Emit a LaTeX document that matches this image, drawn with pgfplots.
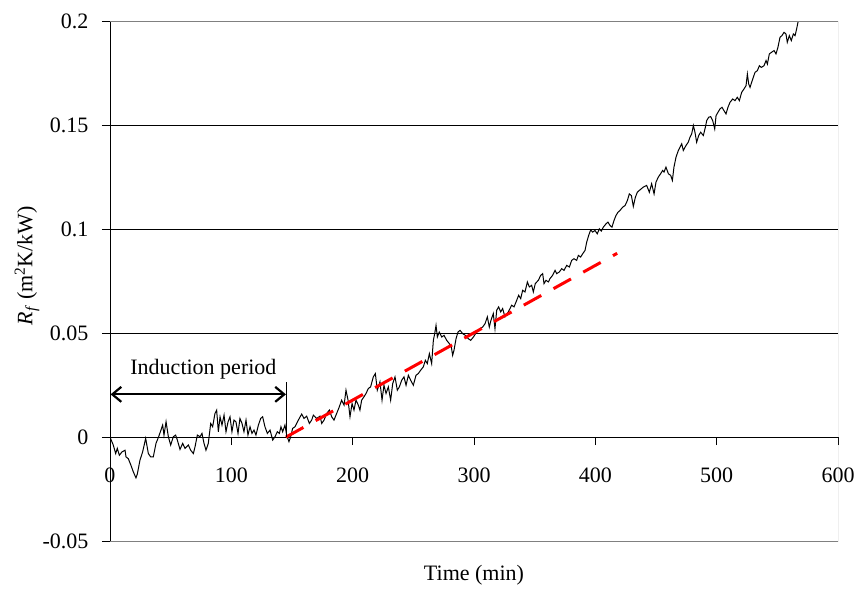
\documentclass[border=0pt]{standalone}
\usepackage{fontspec}
\setmainfont{Liberation Serif}
\usepackage{pgfplots}
\pgfplotsset{compat=1.18}
\usetikzlibrary{arrows.meta}
\begin{document}
\fontsize{22}{26}\selectfont
\begin{tikzpicture}
\useasboundingbox (0,0) rectangle (859pt,592pt);
\begin{axis}[
  at={(110pt,51pt)}, anchor=south west,
  scale only axis, width=728pt, height=519.3pt,
  xmin=0, xmax=600, ymin=-0.05, ymax=0.2,
  axis x line=middle, axis y line=left,
  axis line style={-, black, line width=1pt},
  x axis line style={-}, y axis line style={-},
  xtick={0,100,...,600}, xticklabels={0,100,200,300,400,500,600},
  ytick={-0.05,0,0.05,0.1,0.15,0.2}, yticklabels={-0.05,0,0.05,0.1,0.15,0.2},
  hide obscured x ticks=false, hide obscured y ticks=false,
  tick align=outside, major tick length=8pt,
  tick style={black, line width=1pt},
  ymajorgrids, grid style={black, line width=1pt},
  every tick label/.append style={font=\fontsize{22}{26}\selectfont},
  xticklabel style={yshift=-15pt},
  yticklabel style={xshift=-6pt},
  every axis x label/.style={at={(axis description cs:0.5,-0.0655)}, anchor=center, font=\fontsize{22}{26}\selectfont},
  every axis y label/.style={at={(axis description cs:-0.114,0.53)}, anchor=center, rotate=90, font=\fontsize{22}{26}\selectfont},
  xlabel={Time (min)},
  ylabel={\textit{R}\textsubscript{\textit{f}} (m\textsuperscript{2}K/kW)},
]
\addplot[black, line width=1pt] coordinates {
(0,0) (2.7,-0.0038) (4.7,-0.0079) (6.0,-0.0054) (7.7,-0.0087) (9.9,-0.0071) (12.4,-0.0063) (13.2,-0.0095)
(15.1,-0.0104) (17.3,-0.0136) (19.2,-0.0167) (21.4,-0.0196) (22.5,-0.0178) (24.7,-0.0111) (26.9,-0.0071)
(29.4,-0.0006) (31.6,-0.0079) (33.5,-0.0095) (35.7,-0.0095) (37.9,-0.0030) (40.1,0.0002) (42.0,0.0034)
(43.4,0.0058) (44.5,0.0010) (46.2,0.0074) (48.1,0.0002) (50.0,-0.0038) (52.2,0.0002) (54.1,0.0010)
(55.5,-0.0014) (57.7,-0.0059) (59.9,-0.0030) (61.8,-0.0054) (64.6,-0.0038) (66.5,-0.0063) (68.7,-0.0079)
(70.1,-0.0046) (72.0,0.0010) (74.2,0.0002) (75.8,0.0018) (77.5,-0.0030) (79.1,-0.0063) (81.0,-0.0030)
(83.0,0.0066) (84.6,0.0050) (86.5,0.0114) (87.9,0.0130) (89.3,0.0026) (90.7,0.0098) (92.3,0.0058)
(94.0,0.0106) (95.6,0.0026) (97.3,0.0074) (98.9,0.0098) (100.5,0.0026) (102.2,0.0082) (103.8,0.0074)
(105.5,0.0018) (107.1,0.0090) (108.8,0.0066) (110.4,0.0026) (112.1,0.0082) (113.7,0.0010) (115.4,0.0050)
(117.0,0.0018) (118.7,0.0034) (120.3,0.0010) (122.3,0.0058) (124.2,0.0090) (125.8,0.0098) (127.7,0.0050)
(129.7,0.0018) (131.9,0.0034) (134.1,-0.0014) (136.0,0.0002) (137.9,0.0026) (139.6,0.0018) (140.9,0.0050)
(142.3,0.0026) (144.2,0.0058) (145.6,0.0010) (147.5,-0.0022) (148.9,0.0002) (150.5,0.0042)
(152.5,0.0050) (155.2,0.0082) (158.0,0.0111) (159.9,0.0090) (162.1,0.0101) (164.3,0.0066) (166.2,0.0082)
(167.6,0.0106) (170.3,0.0090) (173.1,0.0101) (174.5,0.0066) (176.4,0.0082) (178.6,0.0114) (180.8,0.0130)
(182.7,0.0098) (184.6,0.0082) (186.8,0.0114) (189.0,0.0146) (190.9,0.0178) (192.9,0.0154) (194.5,0.0226)
(196.2,0.0178) (197.8,0.0098) (199.5,0.0162) (201.1,0.0130) (202.7,0.0178) (204.7,0.0154) (206.0,0.0130)
(207.4,0.0178) (209.3,0.0194) (211.0,0.0210) (212.9,0.0234) (214.8,0.0242) (217.0,0.0290) (218.7,0.0306)
(220.3,0.0226) (222.5,0.0266) (224.2,0.0178) (225.8,0.0250) (227.5,0.0210) (229.4,0.0242) (231.3,0.0178)
(233.0,0.0258) (234.9,0.0290) (236.8,0.0226) (238.5,0.0242) (240.4,0.0274) (242.3,0.0290) (244.0,0.0250)
(245.9,0.0298) (247.8,0.0274) (250.0,0.0250) (252.2,0.0298) (254.1,0.0306) (256.0,0.0322) (258.2,0.0338)
(259.9,0.0370) (261.5,0.0354) (263.2,0.0402) (265.1,0.0354) (266.5,0.0466) (267.6,0.0498) (268.7,0.0538)
(269.8,0.0482) (271.4,0.0506) (273.4,0.0482) (275.3,0.0490) (277.5,0.0466) (279.7,0.0450) (281.3,0.0434)
(282.4,0.0394) (283.5,0.0418) (285.2,0.0474) (286.8,0.0506) (288.5,0.0514) (290.7,0.0498) (292.9,0.0490)
(295.3,0.0474) (297.3,0.0466) (299.5,0.0482) (302.2,0.0506) (304.9,0.0522)
(307.1,0.0530) (309.1,0.0546) (311.0,0.0579) (312.6,0.0530) (314.0,0.0563) (315.9,0.0595) (317.3,0.0522)
(318.7,0.0611) (320.3,0.0627) (322.0,0.0603) (323.6,0.0619) (325.5,0.0579) (327.5,0.0595) (329.7,0.0619)
(331.0,0.0635) (333.0,0.0627) (335.2,0.0659) (336.8,0.0683) (338.5,0.0667) (340.1,0.0707) (342.0,0.0699)
(344.0,0.0747) (345.6,0.0723) (347.5,0.0731) (348.9,0.0699) (350.5,0.0739) (353.0,0.0755) (355.0,0.0779)
(356.6,0.0787) (357.7,0.0739) (359.3,0.0755) (361.3,0.0747) (362.6,0.0763) (364.8,0.0779) (366.8,0.0803)
(368.1,0.0787) (370.3,0.0795) (372.3,0.0811) (374.2,0.0803) (376.4,0.0827) (378.6,0.0819) (380.5,0.0851)
(382.4,0.0859) (384.6,0.0851) (386.0,0.0875) (387.9,0.0867) (389.6,0.0883) (391.5,0.0899) (392.9,0.0939)
(394.5,0.0971) (396.2,0.0998) (397.8,0.0987) (399.7,0.0995) (401.6,0.0979) (403.3,0.1003) (404.9,0.0992)
(406.6,0.1011) (408.8,0.1027) (410.4,0.1035) (412.1,0.1019) (413.7,0.1011) (415.4,0.1043) (417.0,0.1067)
(418.7,0.1083) (420.3,0.1091) (422.5,0.1107) (424.5,0.1115) (426.4,0.1139) (428.0,0.1171) (429.7,0.1163)
(431.3,0.1111) (433.0,0.1155) (434.6,0.1179) (436.3,0.1188)
(439.6,0.1204) (442.3,0.1212) (444.5,0.1179) (446.4,0.1220) (448.4,0.1171) (450.0,0.1228) (451.9,0.1252)
(453.8,0.1268) (455.5,0.1284) (456.6,0.1276) (458.2,0.1300) (460.2,0.1268) (462.1,0.1260) (463.5,0.1236)
(464.8,0.1300) (466.5,0.1348) (468.4,0.1380) (469.8,0.1396) (471.2,0.1412) (472.5,0.1380) (474.7,0.1404)
(476.6,0.1420) (478.0,0.1444) (479.4,0.1460) (480.8,0.1500) (482.1,0.1468) (483.5,0.1420) (485.2,0.1452)
(486.8,0.1468) (489.0,0.1452) (490.7,0.1492) (491.8,0.1524) (493.4,0.1540) (495.1,0.1543) (496.7,0.1524)
(498.4,0.1484) (499.5,0.1548) (501.1,0.1564) (502.7,0.1580) (504.4,0.1588) (506.0,0.1572) (507.7,0.1556)
(509.3,0.1588) (511.0,0.1612) (513.2,0.1628) (515.1,0.1620) (517.0,0.1636) (518.7,0.1620) (520.6,0.1660)
(522.5,0.1676) (524.2,0.1692) (525.3,0.1748) (526.4,0.1700) (527.5,0.1684) (529.7,0.1724) (531.6,0.1756)
(533.5,0.1764) (535.2,0.1788) (536.8,0.1780) (539.0,0.1788) (540.7,0.1813) (541.8,0.1796) (543.4,0.1845)
(545.3,0.1853) (547.3,0.1861) (548.9,0.1845) (550.5,0.1877) (552.2,0.1925) (553.8,0.1933) (555.5,0.1949)
(557.1,0.1941) (558.2,0.1901) (559.9,0.1933) (561.5,0.1909) (563.2,0.1941) (564.6,0.1933) (565.9,0.1965)
(567.0,0.1997) (567.3,0.2000)
};
\addplot[red, line width=3pt, dash pattern=on 20pt off 14pt] coordinates {(145,0) (418,0.0885)};
\draw[gray, line width=1pt] (rel axis cs:0,0) -- (rel axis cs:1,0) -- (rel axis cs:1,1) -- (rel axis cs:0,1);
\draw[black, line width=1pt] (rel axis cs:0,0) -- (rel axis cs:0,1);
\draw[black, line width=1pt] (axis cs:145.6,0) -- (axis cs:145.6,0.0265);
\draw[black, line width=2.2pt, {Straight Barb[length=9pt,width=15pt]}-{Straight Barb[length=9pt,width=15pt]}] (axis cs:0.5,0.0206) -- (axis cs:145,0.0206);
\node[font=\fontsize{22}{26}\selectfont] at (axis cs:77,0.0325) {Induction period};
\end{axis}
\end{tikzpicture}
\end{document}
